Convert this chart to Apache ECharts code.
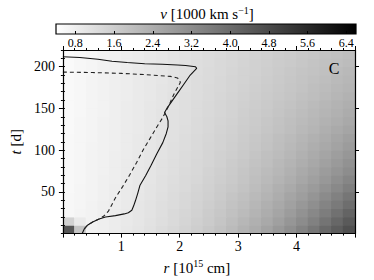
<!DOCTYPE html>
<html>
<head>
<meta charset="utf-8">
<script src="https://cdn.jsdelivr.net/npm/echarts@6/dist/echarts.min.js"></script>
<style>html,body{margin:0;padding:0;background:#fff}#c{width:374px;height:280px}</style>
</head>
<body>
<div id="c"></div>
<script>
// ---- data ----
const rCenters = [0.1,0.3,0.5,0.7,0.9,1.1,1.3,1.5,1.7,1.9,2.1,2.3,2.5,2.7,2.9,3.1,3.3,3.5,3.7,3.9,4.1,4.3,4.5,4.7,4.9];
const tCenters = [5,15,25,35,45,55,65,75,85,95,105,115,125,135,145,155,165,175,185,195,205,215];
// v [1000 km/s], one row per tCenters entry, one column per rCenters entry
const vRows = [
 [4.50,1.80,0.74,0.80,0.87,0.95,1.04,1.13,1.24,1.35,1.46,1.59,1.73,1.89,2.05,2.24,2.43,2.64,2.88,3.13,3.41,3.71,4.04,4.35,4.65],
 [1.50,0.90,0.72,0.79,0.86,0.94,1.02,1.11,1.21,1.31,1.42,1.54,1.67,1.82,1.97,2.14,2.31,2.50,2.72,2.95,3.20,3.47,3.77,4.09,4.40],
 [0.60,0.66,0.72,0.78,0.85,0.93,1.01,1.09,1.19,1.29,1.39,1.50,1.63,1.76,1.90,2.06,2.22,2.40,2.60,2.81,3.04,3.29,3.56,3.85,4.16],
 [0.60,0.65,0.71,0.78,0.84,0.92,1.00,1.08,1.17,1.26,1.36,1.47,1.59,1.71,1.85,1.99,2.14,2.31,2.49,2.69,2.90,3.12,3.38,3.64,3.92],
 [0.59,0.64,0.70,0.77,0.84,0.91,0.98,1.06,1.15,1.24,1.34,1.44,1.55,1.67,1.80,1.93,2.07,2.23,2.40,2.58,2.77,2.98,3.21,3.46,3.72],
 [0.58,0.64,0.70,0.76,0.83,0.90,0.97,1.05,1.13,1.22,1.31,1.41,1.52,1.63,1.74,1.87,2.01,2.15,2.31,2.47,2.65,2.84,3.05,3.27,3.51],
 [0.58,0.63,0.69,0.76,0.82,0.89,0.96,1.04,1.12,1.20,1.29,1.38,1.49,1.59,1.70,1.82,1.95,2.08,2.23,2.38,2.54,2.72,2.91,3.12,3.33],
 [0.57,0.63,0.69,0.75,0.82,0.88,0.96,1.03,1.11,1.19,1.27,1.36,1.46,1.56,1.67,1.78,1.90,2.02,2.16,2.30,2.46,2.62,2.80,2.98,3.18],
 [0.57,0.62,0.68,0.75,0.81,0.88,0.95,1.02,1.10,1.18,1.26,1.34,1.43,1.53,1.63,1.74,1.85,1.96,2.09,2.22,2.37,2.52,2.68,2.85,3.04],
 [0.56,0.62,0.68,0.74,0.81,0.87,0.94,1.01,1.09,1.16,1.24,1.32,1.41,1.51,1.60,1.70,1.81,1.92,2.04,2.16,2.30,2.44,2.59,2.75,2.92],
 [0.56,0.62,0.68,0.74,0.80,0.87,0.94,1.00,1.08,1.15,1.23,1.31,1.39,1.48,1.57,1.67,1.77,1.87,1.99,2.10,2.23,2.36,2.50,2.64,2.80],
 [0.56,0.61,0.67,0.74,0.80,0.86,0.93,1.00,1.07,1.14,1.22,1.30,1.38,1.46,1.55,1.64,1.74,1.84,1.95,2.06,2.17,2.30,2.43,2.57,2.71],
 [0.55,0.61,0.67,0.73,0.79,0.86,0.92,0.99,1.06,1.13,1.20,1.28,1.36,1.44,1.52,1.61,1.70,1.79,1.89,1.99,2.10,2.21,2.34,2.46,2.59],
 [0.55,0.61,0.67,0.73,0.79,0.85,0.92,0.98,1.05,1.12,1.19,1.27,1.34,1.42,1.50,1.58,1.67,1.76,1.85,1.95,2.05,2.15,2.27,2.38,2.50],
 [0.55,0.60,0.66,0.72,0.79,0.85,0.92,0.98,1.05,1.12,1.18,1.25,1.33,1.40,1.48,1.56,1.64,1.72,1.81,1.90,2.00,2.09,2.20,2.30,2.41],
 [0.54,0.60,0.66,0.72,0.78,0.85,0.91,0.98,1.04,1.11,1.18,1.25,1.32,1.39,1.46,1.54,1.62,1.70,1.78,1.87,1.96,2.05,2.15,2.25,2.35],
 [0.54,0.60,0.66,0.72,0.78,0.84,0.91,0.97,1.03,1.10,1.17,1.23,1.30,1.37,1.44,1.52,1.59,1.67,1.74,1.82,1.91,1.99,2.08,2.17,2.27],
 [0.54,0.60,0.66,0.72,0.78,0.84,0.90,0.97,1.03,1.09,1.16,1.22,1.29,1.36,1.43,1.50,1.57,1.64,1.72,1.79,1.87,1.95,2.04,2.12,2.21],
 [0.54,0.60,0.66,0.72,0.78,0.84,0.90,0.96,1.02,1.09,1.15,1.22,1.28,1.35,1.41,1.48,1.55,1.62,1.69,1.76,1.84,1.91,1.99,2.07,2.15],
 [0.53,0.59,0.65,0.71,0.77,0.84,0.90,0.96,1.02,1.08,1.14,1.21,1.27,1.33,1.40,1.46,1.53,1.60,1.66,1.73,1.80,1.87,1.94,2.02,2.09],
 [0.53,0.59,0.65,0.71,0.77,0.83,0.89,0.95,1.02,1.08,1.14,1.20,1.26,1.32,1.38,1.45,1.51,1.57,1.64,1.70,1.77,1.83,1.90,1.96,2.03],
 [0.53,0.59,0.65,0.71,0.77,0.83,0.89,0.95,1.01,1.07,1.13,1.19,1.25,1.31,1.37,1.43,1.49,1.55,1.61,1.67,1.73,1.79,1.85,1.91,1.97]
];
// solid contour
const rSolid = [0.33,0.35,0.37,0.42,0.51,0.62,0.73,0.90,1.05,1.12,1.18,1.21,1.24,1.28,1.32,1.42,1.51,1.61,1.71,1.77,1.80,1.80,1.78,1.74,1.78,1.84,1.96,2.07,2.18,2.29,2.27,2.10,1.96,1.70,1.40,1.10,0.84,0.60,0.29,0.00];
const tSolid = [0,3,6,10,14,17.5,19.8,21.5,23.6,25,28,33,39,48,58,70,82,96,109,120,128,135,140,145,150,156,168,179,190,198,200,201.5,202,203,203.5,205,206.6,209,211,212];
// dashed contour
const rDashed = [0.37,0.42,0.51,0.62,0.70,0.78,0.84,0.90,1.02,1.14,1.26,1.38,1.50,1.61,1.70,1.76,1.83,1.90,1.97,2.01,2.00,1.96,1.84,1.40,1.00,0.50,0.00];
const tDashed = [6,10,14,17.5,21,27,35,43,56,70,85,101,115,128,138,146,156,167,176,181,184,186.5,188.4,190.5,192,193,193.5];
// axes / colour bar
const rTickLabels = [1,2,3,4];
const tTickLabels = [50,100,150,200];
const cbMin = 0.4, cbMax = 6.6;
const cbTicks = [0.8,1.6,2.4,3.2,4.0,4.8,5.6,6.4];

// ---- build ----
const DR = 0.2, DT = 10;
const cells = [];
tCenters.forEach((t, i) => rCenters.forEach((r, j) => cells.push([r, t, vRows[i][j]])));
const solid = rSolid.map((r, i) => [r, tSolid[i]]);
const dashed = rDashed.map((r, i) => [r, tDashed[i]]);

const FF = "'Liberation Serif', serif";
const lab = {fontFamily: FF, fontSize: 14, color: '#000'};
const rich = {
  i: {fontFamily: FF, fontSize: 15, fontStyle: 'italic', color: '#000'},
  n: {fontFamily: FF, fontSize: 15, color: '#000'},
  sup: {fontFamily: FF, fontSize: 10, color: '#000', padding: [0, 0, 8, 0]}
};
const axLine = {show: true, onZero: false, lineStyle: {color: '#000', width: 1.2}};
const tick = (len, extra) => Object.assign({show: true, length: len, lineStyle: {color: '#000', width: 1}}, extra || {});

function renderCell(params, api) {
  const r = api.value(0), t = api.value(1);
  const p0 = api.coord([r - DR / 2, t + DT / 2]);
  const p1 = api.coord([r + DR / 2, t - DT / 2]);
  const cs = params.coordSys;
  const shape = echarts.graphic.clipRectByRect(
    {x: p0[0] - 0.5, y: p0[1] - 0.5, width: p1[0] - p0[0] + 1, height: p1[1] - p0[1] + 1},
    {x: cs.x, y: cs.y, width: cs.width, height: cs.height});
  if (!shape) return null;
  return {type: 'rect', shape: shape, style: {fill: api.visual('color')}};
}
function renderBar(params, api) {
  const p0 = api.coord([api.value(0), 1]);
  const p1 = api.coord([api.value(1), 0]);
  return {type: 'rect', shape: {x: p0[0], y: p0[1], width: p1[0] - p0[0], height: p1[1] - p0[1]},
    style: {fill: new echarts.graphic.LinearGradient(0, 0, 1, 0, [{offset: 0, color: '#ffffff'}, {offset: 1, color: '#000000'}]),
      stroke: '#000', lineWidth: 1.2}};
}

const chart = echarts.init(document.getElementById('c'), null, {renderer: 'svg'});
chart.setOption({
  animation: false,
  backgroundColor: '#fff',
  textStyle: {fontFamily: FF},
  grid: [
    {left: 56, right: 19, top: 50, bottom: 43},
    {left: 56, right: 18, top: 24, height: 10}
  ],
  visualMap: {type: 'continuous', show: false, min: cbMin, max: cbMax, dimension: 2, seriesIndex: 0,
    inRange: {color: ['#ffffff', '#000000']}},
  xAxis: [
    {type: 'value', gridIndex: 0, min: 0, max: 5, interval: 1, position: 'bottom', z: 5,
      axisLine: axLine, axisTick: tick(4), minorTick: {show: true, splitNumber: 5, length: 2, lineStyle: {color: '#000'}},
      splitLine: {show: false},
      axisLabel: Object.assign({customValues: rTickLabels, margin: 6}, lab),
      name: '{i|r}{n| [10}{sup|15}{n| cm]}', nameLocation: 'middle', nameGap: 22,
      nameTextStyle: {fontFamily: FF, rich: rich, padding: [0, 24, 0, 0]}},
    {type: 'value', gridIndex: 0, min: 0, max: 5, interval: 1, position: 'top', z: 5,
      axisLine: axLine, axisTick: tick(4), minorTick: {show: true, splitNumber: 5, length: 2, lineStyle: {color: '#000'}},
      splitLine: {show: false}, axisLabel: {show: false}},
    {type: 'value', gridIndex: 1, min: cbMin, max: cbMax, position: 'bottom', z: 5,
      axisLine: {show: false}, axisTick: tick(3, {inside: true, customValues: cbTicks}),
      splitLine: {show: false},
      axisLabel: {customValues: cbTicks, margin: 3, fontFamily: FF, fontSize: 12, color: '#000', formatter: v => v.toFixed(1)}}
  ],
  yAxis: [
    {type: 'value', gridIndex: 0, min: 0, max: 220, interval: 50, position: 'left', z: 5,
      axisLine: axLine, axisTick: tick(4, {customValues: tTickLabels}), splitLine: {show: false},
      axisLabel: Object.assign({customValues: tTickLabels, margin: 8}, lab),
      name: '{i|t}{n| [d]}', nameLocation: 'middle', nameGap: 29, nameRotate: 90,
      nameTextStyle: {fontFamily: FF, rich: rich}},
    {type: 'value', gridIndex: 0, min: 0, max: 220, interval: 10, position: 'left', z: 5,
      axisLine: {show: false}, axisTick: tick(2), splitLine: {show: false}, axisLabel: {show: false}},
    {type: 'value', gridIndex: 0, min: 0, max: 220, interval: 50, position: 'right', z: 5,
      axisLine: axLine, axisTick: tick(4, {customValues: tTickLabels}), splitLine: {show: false}, axisLabel: {show: false}},
    {type: 'value', gridIndex: 0, min: 0, max: 220, interval: 10, position: 'right', z: 5,
      axisLine: {show: false}, axisTick: tick(2), splitLine: {show: false}, axisLabel: {show: false}},
    {type: 'value', gridIndex: 1, min: 0, max: 1, show: false}
  ],
  graphic: [
    {type: 'text', x: 207, y: 14, z: 10,
      style: {text: '{i|v}{n| [1000 km s}{sup|−1}{n|]}', rich: rich, align: 'center', verticalAlign: 'middle'}},
    {type: 'text', x: 334, y: 68, z: 10,
      style: {text: 'C', fontFamily: FF, fontSize: 16, fill: '#000', align: 'center', verticalAlign: 'middle'}}
  ],
  series: [
    {type: 'custom', name: 'v', xAxisIndex: 0, yAxisIndex: 0, data: cells, renderItem: renderCell,
      encode: {x: 0, y: 1}, silent: true, z: 1},
    {type: 'line', name: 'solid', xAxisIndex: 0, yAxisIndex: 0, data: solid, showSymbol: false, symbol: 'none',
      lineStyle: {color: '#111', width: 1.1}, clip: true, z: 3},
    {type: 'line', name: 'dashed', xAxisIndex: 0, yAxisIndex: 0, data: dashed, showSymbol: false, symbol: 'none',
      lineStyle: {color: '#222', width: 1.1, type: [4, 3]}, clip: true, z: 3},
    {type: 'custom', name: 'colorbar', xAxisIndex: 2, yAxisIndex: 4, data: [[cbMin, cbMax]], renderItem: renderBar,
      silent: true, z: 1}
  ]
});
</script>
</body>
</html>
